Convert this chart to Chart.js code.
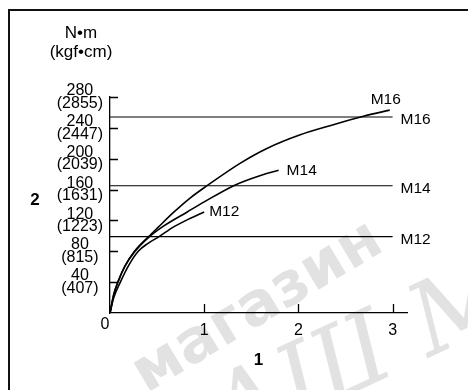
<!DOCTYPE html>
<html>
<head>
<meta charset="utf-8">
<script src="https://cdn.jsdelivr.net/npm/chart.js@4.4.0/dist/chart.umd.min.js"></script>
<style>
  html, body { margin: 0; padding: 0; background: #fff; }
  #wrap { width: 468px; height: 390px; }
</style>
</head>
<body>
<div id="wrap"><canvas id="torqueChart" width="468" height="390"></canvas></div>
<script>
const FONT = 'Arial, "Liberation Sans", sans-serif';

// turns on the x axis, torque in N·m (kgf·cm) on the y axis
const xTicks = [0, 1, 2, 3];
const yTicks = [0, 40, 80, 120, 160, 200, 240, 280];
const yTicksKgf = ["", "(407)", "(815)", "(1223)", "(1631)", "(2039)", "(2447)", "(2855)"];

const m16Turns  = [0, 0.04, 0.09, 0.16, 0.26, 0.41, 0.51, 0.68, 0.85, 1.03, 1.38, 1.66, 2.02, 2.37, 2.69, 2.97];
const m16Torque = [0, 24, 42, 61, 80, 99, 111, 131, 149, 165, 194, 213, 231, 244, 255, 263];

const m14Turns  = [0, 0.04, 0.09, 0.16, 0.26, 0.41, 0.56, 0.82, 1.0, 1.33, 1.59, 1.79];
const m14Torque = [0, 24, 42, 61, 79, 98, 112, 131, 144, 166, 178, 185];

const m12Turns  = [0, 0.04, 0.11, 0.2, 0.3, 0.4, 0.52, 0.68, 0.84, 1.0];
const m12Torque = [0, 20, 40, 62, 80, 90, 99, 112, 122, 131];

// rated torque lines
const limitNames = ["M16", "M14", "M12"];
const limitTorque = [254, 165, 99];
const limitEnd = 3;

function toPoints(xs, ys) {
  return xs.map((x, i) => ({ x: x, y: ys[i] }));
}

const curveStyle = {
  borderColor: "#000",
  borderWidth: 1.6,
  pointRadius: 0,
  fill: false,
  cubicInterpolationMode: "monotone"
};

const datasets = [
  { ...curveStyle, data: toPoints(m16Turns, m16Torque), endLabel: { text: "M16", dx: -4, dy: -10, align: "center" } },
  { ...curveStyle, data: toPoints(m14Turns, m14Torque), endLabel: { text: "M14", dx: 8, dy: 0, align: "left" } },
  { ...curveStyle, data: toPoints(m12Turns, m12Torque), endLabel: { text: "M12", dx: 5, dy: 0, align: "left" } }
];

limitNames.forEach((name, i) => {
  datasets.push({
    borderColor: "#000",
    borderWidth: 1.1,
    pointRadius: 0,
    fill: false,
    data: [{ x: 0, y: limitTorque[i] }, { x: limitEnd, y: limitTorque[i] }],
    endLabel: { text: name, dx: 8, dy: 3, align: "left" }
  });
});

// frame and faint shop stamp behind the chart
const backdrop = {
  id: "backdrop",
  beforeDraw(chart) {
    const ctx = chart.ctx;
    ctx.save();
    ctx.fillStyle = "#fff";
    ctx.fillRect(0, 0, chart.width, chart.height);

    ctx.fillStyle = "#e2e2e2";
    ctx.textBaseline = "middle";
    ctx.save();
    ctx.textAlign = "center";
    ctx.translate(258, 308);
    ctx.rotate(-31 * Math.PI / 180);
    ctx.font = 'bold 60px "DejaVu Sans", sans-serif';
    ctx.fillText("магазин", 0, 0);
    ctx.restore();

    ctx.save();
    ctx.textAlign = "left";
    ctx.translate(150, 459);
    ctx.rotate(-25 * Math.PI / 180);
    ctx.font = 'italic 100px "DejaVu Serif", serif';
    ctx.fillText("ВАШ М", 0, 0);
    ctx.restore();

    ctx.strokeStyle = "#111";
    ctx.lineWidth = 2;
    ctx.strokeRect(9, 10, 480, 400);
    ctx.restore();
  }
};

// inward tick marks, curve labels and axis captions
const annotate = {
  id: "annotate",
  afterDatasetsDraw(chart) {
    const ctx = chart.ctx;
    const xs = chart.scales.x;
    const ys = chart.scales.y;
    const area = chart.chartArea;
    ctx.save();
    ctx.strokeStyle = "#000";
    ctx.lineWidth = 1.3;
    ctx.beginPath();
    yTicks.forEach(v => {
      if (v === 0) return;
      const py = Math.round(ys.getPixelForValue(v)) + 0.5;
      ctx.moveTo(area.left, py);
      ctx.lineTo(area.left + 8, py);
    });
    xTicks.forEach(v => {
      if (v === 0) return;
      const px = Math.round(xs.getPixelForValue(v)) + 0.5;
      ctx.moveTo(px, area.bottom);
      ctx.lineTo(px, area.bottom - 9);
    });
    ctx.stroke();

    ctx.fillStyle = "#000";
    ctx.font = "15.5px " + FONT;
    ctx.textBaseline = "middle";
    chart.data.datasets.forEach((ds, i) => {
      if (!ds.endLabel) return;
      const pts = chart.getDatasetMeta(i).data;
      const last = pts[pts.length - 1];
      ctx.textAlign = ds.endLabel.align;
      ctx.fillText(ds.endLabel.text, last.x + ds.endLabel.dx, last.y + ds.endLabel.dy);
    });

    // origin label sits a little left and above the other x labels
    ctx.textAlign = "center";
    ctx.font = "16px " + FONT;
    ctx.fillText(String(xTicks[0]), xs.getPixelForValue(xTicks[0]) - 5, area.bottom + 12);

    ctx.font = "17px " + FONT;
    ctx.fillText("N•m", 81, 33);
    ctx.fillText("(kgf•cm)", 81, 52);

    ctx.font = "bold 17px " + FONT;
    ctx.fillText("2", 35, 200);
    ctx.fillText("1", (area.left + area.right) / 2, 360);
    ctx.restore();
  }
};

new Chart(document.getElementById("torqueChart"), {
  type: "line",
  data: { datasets: datasets },
  plugins: [backdrop, annotate],
  options: {
    responsive: false,
    animation: false,
    devicePixelRatio: 1,
    layout: { padding: { left: 50, right: 61, top: 97, bottom: 15 } },
    plugins: {
      legend: { display: false },
      tooltip: { enabled: false }
    },
    scales: {
      x: {
        type: "linear",
        min: 0,
        max: 3.153,
        afterFit(scale) { scale.height = 62; },
        afterBuildTicks(scale) { scale.ticks = xTicks.map(v => ({ value: v })); },
        grid: { drawOnChartArea: false, drawTicks: false },
        border: { color: "#000", width: 1.3 },
        ticks: {
          padding: 8,
          color: "#000",
          font: { family: FONT, size: 16 },
          maxRotation: 0,
          callback: v => v === 0 ? "" : String(v)
        }
      },
      y: {
        type: "linear",
        min: 0,
        max: 280,
        afterFit(scale) { scale.width = 60; },
        afterBuildTicks(scale) { scale.ticks = yTicks.map(v => ({ value: v })); },
        grid: { drawOnChartArea: false, drawTicks: false },
        border: { color: "#000", width: 1.3 },
        ticks: {
          padding: 7,
          crossAlign: "center",
          color: "#000",
          font: { family: FONT, size: 16, lineHeight: "12.5px" },
          callback: (v) => v === 0 ? "" : [String(v), yTicksKgf[yTicks.indexOf(v)]]
        }
      }
    }
  }
});
</script>
</body>
</html>
